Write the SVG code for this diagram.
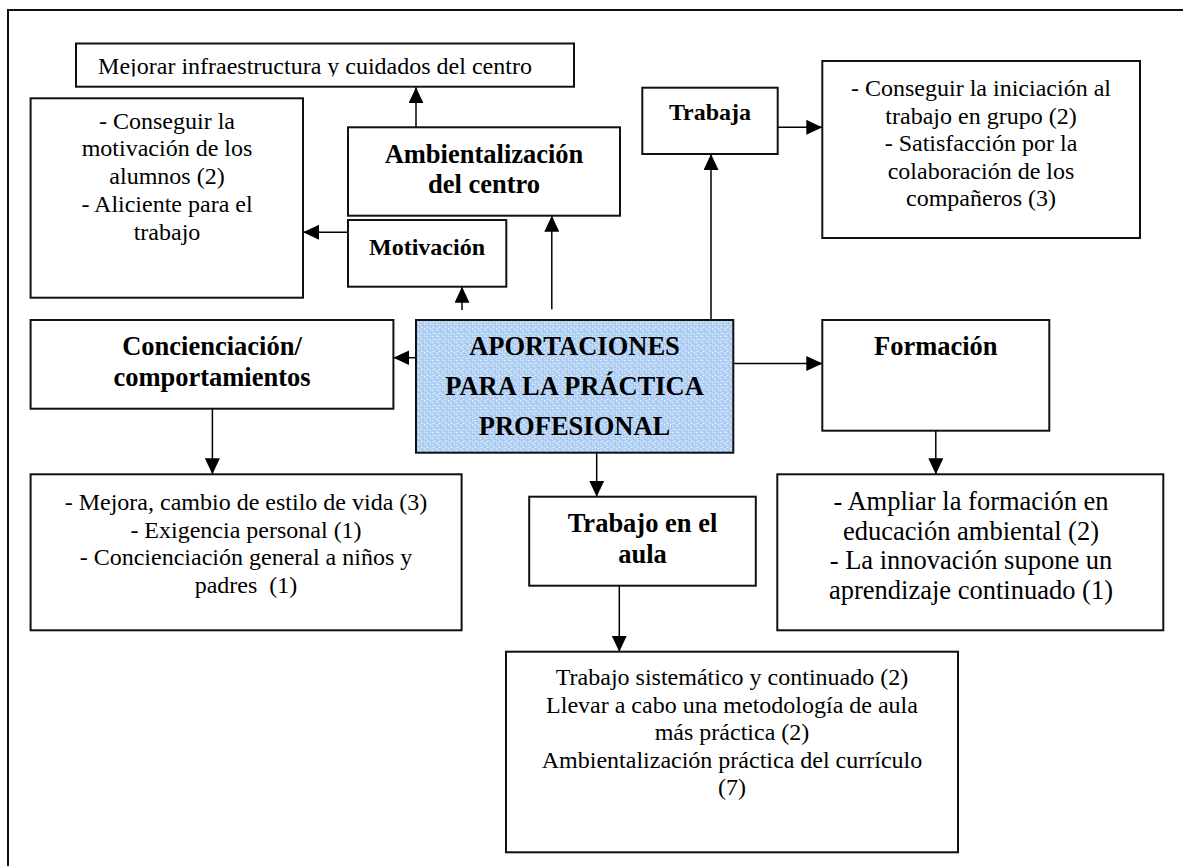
<svg xmlns="http://www.w3.org/2000/svg" width="1183" height="866" viewBox="0 0 1183 866">
<style>
.box{fill:#fff;stroke:#111;stroke-width:2}
.blue{fill:url(#speckle);stroke:#111;stroke-width:2}
.t{font-family:"Liberation Serif","Times New Roman",serif;font-size:24px;fill:#000;text-anchor:middle}
.tl{font-family:"Liberation Serif","Times New Roman",serif;font-size:26.5px;fill:#000;text-anchor:middle}
.b{font-family:"Liberation Serif","Times New Roman",serif;font-weight:bold;font-size:26.5px;fill:#000;text-anchor:middle}
.bs{font-family:"Liberation Serif","Times New Roman",serif;font-weight:bold;font-size:24px;fill:#000;text-anchor:middle}
.c{stroke:#000;stroke-width:1.5;fill:none;marker-end:url(#ah)}
.frame{stroke:#111;stroke-width:2;fill:none}
</style>
<defs>
<marker id="ah" markerUnits="userSpaceOnUse" markerWidth="16" markerHeight="15" refX="16" refY="7.5" orient="auto" viewBox="0 0 16 15">
<path d="M0,0 L16,7.5 L0,15 z" fill="#000"/>
</marker>
<pattern id="speckle" width="6" height="6" patternUnits="userSpaceOnUse">
<rect width="6" height="6" fill="#b2d0f3"/>
<rect x="0" y="0" width="1" height="1" fill="#eef5fd"/>
<rect x="3" y="1" width="1" height="1" fill="#98bdea"/>
<rect x="1" y="3" width="1" height="1" fill="#eef5fd"/>
<rect x="4" y="4" width="1" height="1" fill="#eef5fd"/>
<rect x="5" y="2" width="1" height="1" fill="#a3c5ee"/>
<rect x="2" y="5" width="1" height="1" fill="#a3c5ee"/>
<rect x="4" y="0" width="1" height="1" fill="#d8e8fa"/>
<rect x="2" y="2" width="1" height="1" fill="#d8e8fa"/>
</pattern>
<clipPath id="clipMej"><rect x="76" y="43" width="498" height="33.5"/></clipPath>
</defs>
<rect width="1183" height="866" fill="#fff"/>
<path class="frame" d="M8,866 V10 H1183"/>

<g id="connectors">
<line class="c" x1="416" y1="127.3" x2="416" y2="87.3"/>
<line class="c" x1="348" y1="232.3" x2="303" y2="232.3"/>
<line class="c" x1="462" y1="310" x2="462" y2="286.7"/>
<line class="c" x1="551.8" y1="309.3" x2="551.8" y2="215.7"/>
<line class="c" x1="711" y1="331.7" x2="711" y2="154"/>
<line class="c" x1="777.7" y1="127.3" x2="822.3" y2="127.3"/>
<line class="c" x1="416" y1="357.7" x2="393.4" y2="357.7"/>
<line class="c" x1="212.4" y1="409" x2="212.4" y2="474.3"/>
<line class="c" x1="733.3" y1="363.5" x2="822.3" y2="363.5"/>
<line class="c" x1="935.8" y1="430.7" x2="935.8" y2="474.3"/>
<line class="c" x1="596.7" y1="452.7" x2="596.7" y2="496.7"/>
<line class="c" x1="619.3" y1="585.7" x2="619.3" y2="651.7"/>
</g>

<g id="mejorar">
<rect class="box" x="76" y="43.5" width="498" height="43.2"/>
<text class="t" x="315" y="74" clip-path="url(#clipMej)">Mejorar infraestructura y cuidados del centro</text>
</g>

<g id="motivacion-detalle">
<rect class="box" x="30.6" y="98.3" width="272.4" height="199.4"/>
<text class="t" x="167" y="128.5">- Conseguir la</text>
<text class="t" x="167" y="156.3">motivación de los</text>
<text class="t" x="167" y="184.1">alumnos (2)</text>
<text class="t" x="167" y="211.9">- Aliciente para el</text>
<text class="t" x="167" y="239.7">trabajo</text>
</g>

<g id="ambientalizacion">
<rect class="box" x="348" y="127.3" width="272" height="88.4"/>
<text class="b" x="484" y="162.7">Ambientalización</text>
<text class="b" x="484" y="192.8">del centro</text>
</g>

<g id="motivacion">
<rect class="box" x="348" y="220" width="158.3" height="66.7"/>
<text class="bs" x="427" y="255">Motivación</text>
</g>

<g id="trabaja">
<rect class="box" x="642.3" y="87.7" width="135.4" height="66.3"/>
<text class="bs" x="710" y="119.5">Trabaja</text>
</g>

<g id="trabaja-detalle">
<rect class="box" x="822.3" y="61" width="317.7" height="177"/>
<text class="t" x="981" y="96">- Conseguir la iniciación al</text>
<text class="t" x="981" y="123.6">trabajo en grupo (2)</text>
<text class="t" x="981" y="151.2">- Satisfacción por la</text>
<text class="t" x="981" y="178.8">colaboración de los</text>
<text class="t" x="981" y="206.4">compañeros (3)</text>
</g>

<g id="concienciacion">
<rect class="box" x="30.6" y="320" width="362.8" height="88.7"/>
<text class="b" x="212" y="355">Concienciación/</text>
<text class="b" x="212" y="386">comportamientos</text>
</g>

<g id="aportaciones">
<rect class="blue" x="416" y="320" width="317.3" height="132.7"/>
<text class="b" x="574.5" y="355">APORTACIONES</text>
<text class="b" x="574.5" y="395">PARA LA PRÁCTICA</text>
<text class="b" x="574.5" y="435">PROFESIONAL</text>
</g>

<g id="formacion">
<rect class="box" x="822.3" y="320" width="227" height="110.7"/>
<text class="b" x="935.8" y="355">Formación</text>
</g>

<g id="concienciacion-detalle">
<rect class="box" x="30.6" y="474.3" width="431" height="156"/>
<text class="t" x="246" y="510">- Mejora, cambio de estilo de vida (3)</text>
<text class="t" x="246" y="537.6">- Exigencia personal (1)</text>
<text class="t" x="246" y="565.2">- Concienciación general a niños y</text>
<text class="t" x="246" y="592.8">padres&#160; (1)</text>
</g>

<g id="trabajo-aula">
<rect class="box" x="529.2" y="496.7" width="226.6" height="89"/>
<text class="b" x="642.5" y="531.7">Trabajo en el</text>
<text class="b" x="642.5" y="563">aula</text>
</g>

<g id="formacion-detalle">
<rect class="box" x="777.3" y="474.3" width="386" height="156"/>
<text class="tl" x="971" y="510">- Ampliar la formación en</text>
<text class="tl" x="971" y="539.5">educación ambiental (2)</text>
<text class="tl" x="971" y="569">- La innovación supone un</text>
<text class="tl" x="971" y="598.5">aprendizaje continuado (1)</text>
</g>

<g id="trabajo-aula-detalle">
<rect class="box" x="506" y="651.7" width="452" height="200.6"/>
<text class="t" x="732" y="685">Trabajo sistemático y continuado (2)</text>
<text class="t" x="732" y="712.6">Llevar a cabo una metodología de aula</text>
<text class="t" x="732" y="740.2">más práctica (2)</text>
<text class="t" x="732" y="767.8">Ambientalización práctica del currículo</text>
<text class="t" x="732" y="795.4">(7)</text>
</g>
</svg>
